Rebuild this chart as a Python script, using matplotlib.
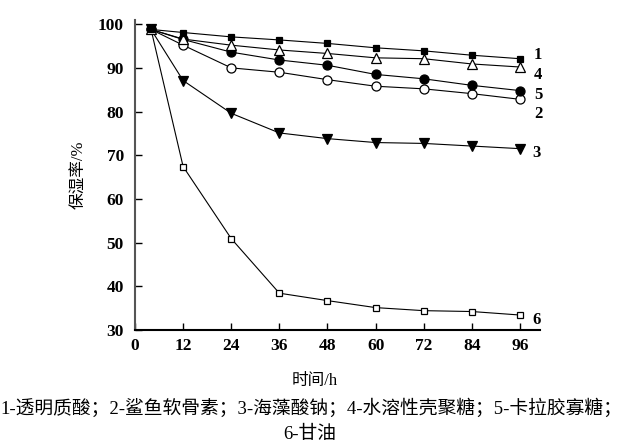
import matplotlib
matplotlib.use("Agg")
import matplotlib.pyplot as plt

# time points (h)
hours = [4, 12, 24, 36, 48, 60, 72, 84, 96]

# moisture retention (%)
s1 = [98.8, 98.1, 97.1, 96.4, 95.6, 94.6, 93.9, 92.9, 92.1]   # 透明质酸
s2 = [98.8, 95.2, 90.0, 89.0, 87.3, 85.8, 85.2, 84.1, 82.8]   # 鲨鱼软骨素
s3 = [98.8, 87.1, 79.6, 75.1, 73.8, 72.9, 72.7, 72.1, 71.5]   # 海藻酸钠
s4 = [98.8, 96.6, 95.2, 94.1, 93.3, 92.3, 92.1, 90.9, 90.2]   # 水溶性壳聚糖
s5 = [98.8, 96.5, 93.6, 91.8, 90.6, 88.5, 87.5, 86.0, 84.8]   # 卡拉胶寡糖
s6 = [98.8, 67.4, 50.9, 38.4, 36.7, 35.1, 34.4, 34.2, 33.4]   # 甘油

x_ticks = [0, 12, 24, 36, 48, 60, 72, 84, 96]
y_ticks = [30, 40, 50, 60, 70, 80, 90, 100]

serif = ["Liberation Serif", "Noto Sans CJK SC"]

fig = plt.figure(figsize=(6.23, 4.41), dpi=100)
ax = fig.add_axes([0.2167, 0.252, 0.65, 0.703])

# (data, marker, facecolor, label, label offset in points)
series = [
    (s6, "s", "white", "6", (9, -2)),
    (s3, "v", "black", "3", (9, -2)),
    (s2, "o", "white", "2", (10, -9)),
    (s5, "o", "black", "5", (10, -2)),
    (s4, "^", "white", "4", (10, -4)),
    (s1, "s", "black", "1", (10, 4)),
]
for ys, mk, fc, lab, off in series:
    ax.plot(hours, ys, color="black", lw=0.8, marker=mk, ms=6.5 if mk != "s" else 5,
            mfc=fc, mec="black", mew=0.9, zorder=3)
    ax.annotate(lab, (hours[-1], ys[-1]), xytext=off, textcoords="offset points",
                fontsize=12, family=serif, weight="bold", va="center_baseline",
                ha="left", annotation_clip=False)

ax.set_xlim(0, 101)
ax.set_ylim(30, 101)
ax.set_xticks(x_ticks)
ax.set_yticks(y_ticks)
for sp in ["top", "right"]:
    ax.spines[sp].set_visible(False)
ax.spines["left"].set_linewidth(1.5)
ax.spines["left"].set_color("#555555")
ax.spines["bottom"].set_linewidth(1.5)
ax.tick_params(direction="in", length=5, width=1.0, labelsize=12.5)
ax.tick_params(axis="y", pad=8)
ax.tick_params(axis="x", pad=6)
for t in ax.get_xticklabels() + ax.get_yticklabels():
    t.set_family(serif)
    t.set_weight("bold")

ax.set_xlabel("时间/h", fontsize=12, family=serif)
ax.xaxis.set_label_coords(0.444, -0.14)
ax.set_ylabel("保湿率/%", fontsize=12, family=serif, labelpad=8)

fig.text(0.5, 0.075, "1-透明质酸；2-鲨鱼软骨素；3-海藻酸钠；4-水溶性壳聚糖；5-卡拉胶寡糖；",
         ha="center", va="center", fontsize=13.5, family=serif)
fig.text(0.497, 0.016, "6-甘油", ha="center", va="center", fontsize=13.5, family=serif)

fig.savefig("out.png", dpi=100)
